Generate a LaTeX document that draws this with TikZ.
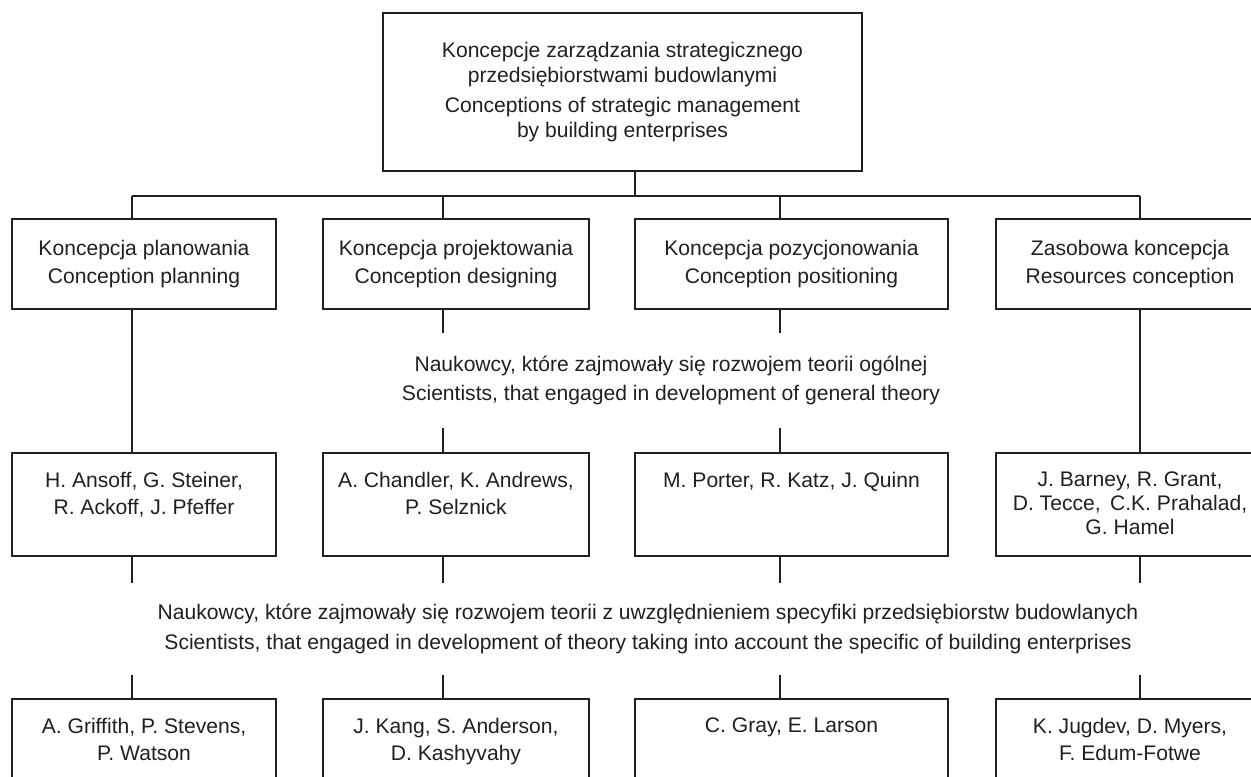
\documentclass[tikz,border=0pt]{standalone}
\usepackage{fontspec}
\setmainfont{Liberation Sans}
\usetikzlibrary{positioning}
\definecolor{ink}{RGB}{35,31,32}

\begin{document}
\begin{tikzpicture}[scale = 1,
  every node/.style={font=\fontsize{12}{15.5}\selectfont, text=ink},
  box/.style={draw=ink, line width=0.9pt, rectangle, inner sep=0pt, align=center},
  names/.style={inner sep=0pt, align=center},
  link/.style={draw=ink, line width=0.9pt}]
\clip (0, 0) rectangle (25.02, 15.54);
% top box
\node[box, minimum width=9.58cm, minimum height=3.16cm, font=\fontsize{12}{14.2}\selectfont] (top) at (12.45, 13.70){Koncepcje zarządzania strategicznego\\przedsiębiorstwami budowlanymi\\[3pt]Conceptions of strategic management\\by building enterprises};
% conceptions
\node[box, minimum width=5.28cm, minimum height=1.8cm] (k1) at (2.88, 10.26){Koncepcja planowania\\Conception planning};
\node[box, minimum width=5.32cm, minimum height=1.8cm] (k2) at (9.12, 10.26){Koncepcja projektowania\\Conception designing};
\node[box, minimum width=6.26cm, minimum height=1.8cm] (k3) at (15.83, 10.26){Koncepcja pozycjonowania\\Conception positioning};
\node[box, minimum width=5.36cm, minimum height=1.8cm] (k4) at (22.60, 10.26){Zasobowa koncepcja\\Resources conception};
% labels
\node[names, minimum height=1.9cm] (gen) at (13.42, 7.93){Naukowcy, które zajmowały się rozwojem teorii ogólnej\\[1.2pt]Scientists, that engaged in development of general theory};
\node[names, minimum height=1.84cm] (spec) at (12.96, 2.96){Naukowcy, które zajmowały się rozwojem teorii z uwzględnieniem specyfiki przedsiębiorstw budowlanych\\[1.2pt]Scientists, that engaged in development of theory taking into account the specific of building enterprises};
% general theory
\node[box, minimum width=5.28cm, minimum height=2.06cm] (a1) at (2.88, 5.45){};
\node[box, minimum width=5.32cm, minimum height=2.06cm] (a2) at (9.12, 5.45){};
\node[box, minimum width=6.26cm, minimum height=2.06cm] (a3) at (15.83, 5.45){};
\node[box, minimum width=5.36cm, minimum height=2.06cm] (a4) at (22.60, 5.45){};
\node[names, below=11pt of a1.north] (a1t){H. Ansoff, G. Steiner,\\R. Ackoff, J. Pfeffer};
\node[names, below=11pt of a2.north] (a2t){A. Chandler, K. Andrews,\\P. Selznick};
\node[names, below=11pt of a3.north] (a3t){M. Porter, R. Katz, J. Quinn};
\node[names, below=11pt of a4.north, font=\fontsize{12}{13.6}\selectfont] (a4t){J. Barney, R. Grant,\\D. Tecce,\, C.K. Prahalad,\\G. Hamel};
% building enterprises
\node[box, minimum width=5.28cm, minimum height=2.06cm] (s1) at (2.88, 0.53){};
\node[box, minimum width=5.32cm, minimum height=2.06cm] (s2) at (9.12, 0.53){};
\node[box, minimum width=6.26cm, minimum height=2.06cm] (s3) at (15.83, 0.53){};
\node[box, minimum width=5.36cm, minimum height=2.06cm] (s4) at (22.60, 0.53){};
\node[names, below=11pt of s1.north] (s1t){A. Griffith, P. Stevens,\\P. Watson};
\node[names, below=11pt of s2.north] (s2t){J. Kang, S. Anderson,\\D. Kashyvahy};
\node[names, below=11pt of s3.north] (s3t){C. Gray, E. Larson};
\node[names, below=11pt of s4.north] (s4t){K. Jugdev, D. Myers,\\F. Edum-Fotwe};
% connectors
\coordinate (hub) at (12.70, 11.62);
\coordinate (d1) at (2.64, 11.62);
\coordinate (d2) at (8.86, 11.62);
\coordinate (d3) at (15.60, 11.62);
\coordinate (d4) at (22.80, 11.62);
\draw[link] (top.south -| hub) -- (hub);
\draw[link] (d1) -- (d4);
\draw[link] (d1) -- (d1 |- k1.north);
\draw[link] (d2) -- (d2 |- k2.north);
\draw[link] (d3) -- (d3 |- k3.north);
\draw[link] (d4) -- (d4 |- k4.north);
\draw[link] (d1 |- k1.south) -- (d1 |- a1.north);
\draw[link] (d2 |- k2.south) -- (d2 |- gen.north);
\draw[link] (d2 |- gen.south) -- (d2 |- a2.north);
\draw[link] (d3 |- k3.south) -- (d3 |- gen.north);
\draw[link] (d3 |- gen.south) -- (d3 |- a3.north);
\draw[link] (d4 |- k4.south) -- (d4 |- a4.north);
\draw[link] (d1 |- a1.south) -- (d1 |- spec.north);
\draw[link] (d2 |- a2.south) -- (d2 |- spec.north);
\draw[link] (d3 |- a3.south) -- (d3 |- spec.north);
\draw[link] (d4 |- a4.south) -- (d4 |- spec.north);
\draw[link] (d1 |- spec.south) -- (d1 |- s1.north);
\draw[link] (d2 |- spec.south) -- (d2 |- s2.north);
\draw[link] (d3 |- spec.south) -- (d3 |- s3.north);
\draw[link] (d4 |- spec.south) -- (d4 |- s4.north);
\end{tikzpicture}
\end{document}
